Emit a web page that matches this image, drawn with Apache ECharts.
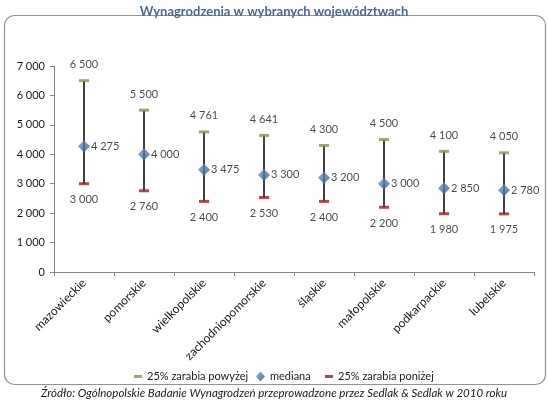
<!DOCTYPE html>
<html>
<head>
<meta charset="utf-8">
<script src="https://cdn.jsdelivr.net/npm/echarts@6/dist/echarts.min.js"></script>
<style>
  html, body { margin: 0; padding: 0; background: #fff; }
  #chart { width: 548px; height: 406px; }
</style>
</head>
<body>
<div id="chart"></div>
<script>
// dane
const categories = ['mazowieckie', 'pomorskie', 'wielkopolskie', 'zachodniopomorskie', 'śląskie', 'małopolskie', 'podkarpackie', 'lubelskie'];
const upper = [6500, 5500, 4761, 4641, 4300, 4500, 4100, 4050];
const median = [4275, 4000, 3475, 3300, 3200, 3000, 2850, 2780];
const lower = [3000, 2760, 2400, 2530, 2400, 2200, 1980, 1975];
const yTicks = [0, 1000, 2000, 3000, 4000, 5000, 6000, 7000];

const FONT = 'Lato, "Noto Sans", sans-serif';
const fmt = v => String(v).replace(/\B(?=(\d{3})+(?!\d))/g, ' ');

const chart = echarts.init(document.getElementById('chart'));

const labelStyle = { color: '#1a1a1a', fontSize: 11, fontFamily: FONT };
const legendText = { color: '#1a1a1a', fontSize: 11, fontFamily: FONT };

const option = {
    animation: false,
    textStyle: { fontFamily: FONT },
    title: {
        text: 'Wynagrodzenia w wybranych województwach',
        left: 'center',
        top: 0,
        textStyle: { color: '#4a6892', fontSize: 13, fontWeight: 'bold', fontFamily: FONT },
    },
    graphic: [
        {
            type: 'rect',
            shape: { x: 4.5, y: 15.5, width: 541, height: 369, r: 10 },
            style: { fill: 'none', stroke: '#8796a2', lineWidth: 1.2 },
            z: -1,
        },
        {
            type: 'text',
            x: 274,
            y: 393,
            style: {
                text: 'Źródło: Ogólnopolskie Badanie Wynagrodzeń przeprowadzone przez Sedlak & Sedlak w 2010 roku',
                align: 'center',
                verticalAlign: 'middle',
                fontStyle: 'italic',
                fontSize: 11.5,
                fontFamily: FONT,
                fill: '#1a1a1a',
            },
        },
    ],
    legend: [
        {
            data: ['25% zarabia powyżej'],
            left: 129, top: 366,
            itemWidth: 8, itemHeight: 3,
            textStyle: legendText,
        },
        {
            data: ['mediana'],
            left: 251, top: 366,
            itemWidth: 9, itemHeight: 10,
            textStyle: legendText,
        },
        {
            data: ['25% zarabia poniżej'],
            left: 320, top: 366,
            itemWidth: 8, itemHeight: 3,
            textStyle: legendText,
        },
    ],
    grid: { left: 54, right: 14, top: 66, bottom: 134, containLabel: false },
    xAxis: {
        type: 'category',
        data: categories,
        boundaryGap: true,
        axisLine: { lineStyle: { color: '#868686', width: 1 } },
        axisTick: { show: true, interval: 0, length: 4, lineStyle: { color: '#868686' } },
        axisLabel: { interval: 0, rotate: 45, margin: 9, color: '#1a1a1a', fontSize: 12, fontFamily: FONT },
        splitLine: { show: false },
    },
    yAxis: {
        type: 'value',
        min: yTicks[0],
        max: yTicks[yTicks.length - 1],
        interval: 1000,
        axisLine: { show: true, lineStyle: { color: '#868686', width: 1 } },
        axisTick: { show: true, length: 4, lineStyle: { color: '#868686' } },
        axisLabel: { color: '#1a1a1a', fontSize: 11, fontFamily: FONT, margin: 9, formatter: fmt },
        splitLine: { show: false },
    },
    series: [
        {
            // pionowa linia od dolnego do górnego kwartyla
            type: 'custom',
            name: 'zakres',
            data: categories.map((c, i) => [i, lower[i], upper[i]]),
            renderItem: (params, api) => {
                const p1 = api.coord([api.value(0), api.value(1)]);
                const p2 = api.coord([api.value(0), api.value(2)]);
                return {
                    type: 'line',
                    shape: { x1: p1[0], y1: p1[1], x2: p2[0], y2: p2[1] },
                    style: { stroke: '#000', lineWidth: 1.5 },
                };
            },
            z: 1,
        },
        {
            type: 'scatter',
            name: '25% zarabia powyżej',
            data: upper,
            symbol: 'rect',
            symbolSize: [10, 3],
            itemStyle: { color: '#8e8c52' },
            label: { show: true, position: 'top', distance: 9, formatter: p => fmt(p.value), ...labelStyle },
            z: 3,
        },
        {
            type: 'scatter',
            name: 'mediana',
            data: median,
            symbol: 'diamond',
            symbolSize: [12, 12],
            itemStyle: {
                color: new echarts.graphic.LinearGradient(0, 0, 1, 1, [
                    { offset: 0, color: '#6f97c8' },
                    { offset: 1, color: '#35598a' },
                ]),
            },
            label: { show: true, position: 'right', distance: 1, formatter: p => fmt(p.value), ...labelStyle },
            z: 4,
        },
        {
            type: 'scatter',
            name: '25% zarabia poniżej',
            data: lower,
            symbol: 'rect',
            symbolSize: [10, 3],
            itemStyle: { color: '#9c1b1b' },
            label: { show: true, position: 'bottom', distance: 9, formatter: p => fmt(p.value), ...labelStyle },
            z: 3,
        },
    ],
};

chart.setOption(option);
</script>
</body>
</html>
